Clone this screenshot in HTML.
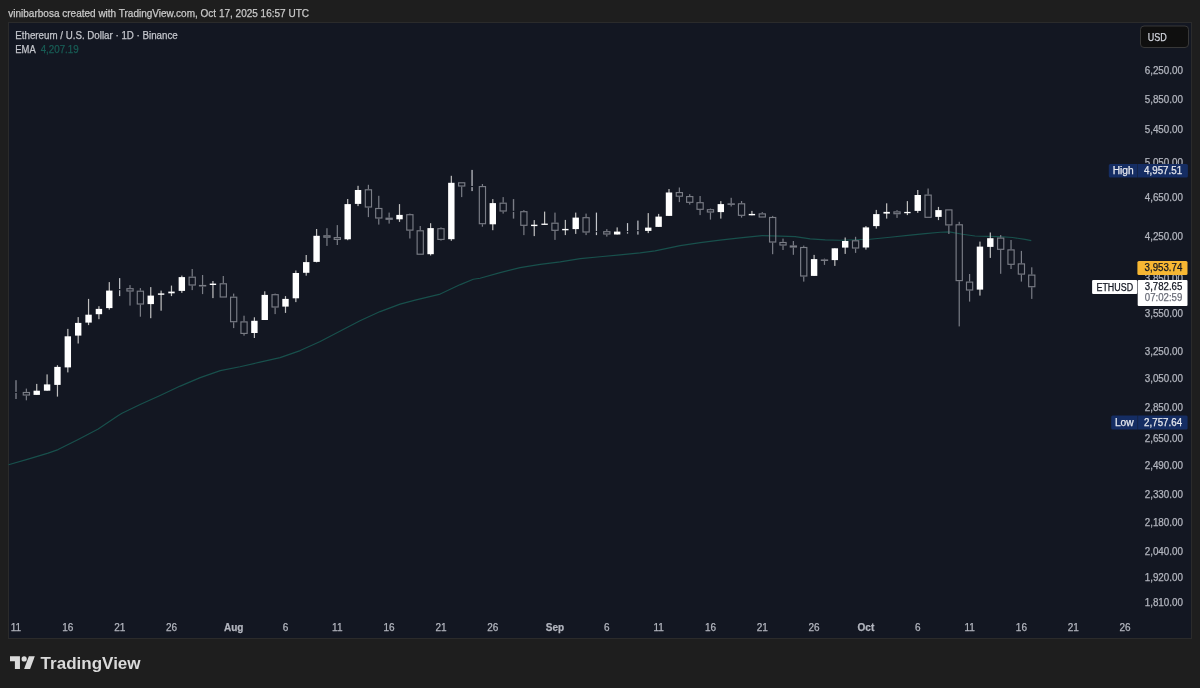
<!DOCTYPE html>
<html><head><meta charset="utf-8"><style>
html,body{margin:0;padding:0;background:#1e1e1e;width:1200px;height:688px;overflow:hidden}
svg{display:block;font-family:"Liberation Sans",sans-serif;will-change:transform}
</style></head><body>
<svg width="1200" height="688" viewBox="0 0 1200 688">
<rect x="0" y="0" width="1200" height="688" fill="#1e1e1e"/>
<text x="8.3" y="16.5" font-size="10.6" fill="#c9c9c9" textLength="300.7" lengthAdjust="spacingAndGlyphs" stroke="#c9c9c9" stroke-width="0.25">vinibarbosa created with TradingView.com, Oct 17, 2025 16:57 UTC</text>
<rect x="8.5" y="22.5" width="1183" height="616" fill="#131722" stroke="#2b2b2b" stroke-width="1"/>
<polyline points="8.5,464.8 28.1,459.1 48.1,453.1 58.1,449.6 78.2,439.6 98.2,429.1 118.3,415.5 122.0,413.2 140.1,404.6 160.1,395.6 180.2,386.1 200.2,377.6 220.3,370.6 240.0,366.8 260.0,362.1 280.1,357.6 300.2,350.6 320.2,341.6 340.3,331.1 360.0,320.8 380.1,311.6 400.1,304.1 415.1,300.1 440.2,294.1 460.3,284.6 473.3,279.2 480.0,278.3 500.1,272.6 520.1,267.6 540.2,264.4 560.2,261.9 580.3,258.6 600.0,256.8 620.1,254.9 640.1,252.9 655.1,250.9 680.2,245.6 700.3,242.6 720.0,240.1 740.1,237.9 762.1,235.6 780.2,236.1 795.2,236.6 810.2,238.9 825.3,239.9 840.0,240.3 870.1,239.3 890.1,237.3 910.2,235.1 925.2,233.6 940.3,232.3 949.3,231.9 962.5,234.3 975.0,236.0 987.5,236.4 1000.0,236.6 1012.5,237.5 1025.0,239.4 1031.3,240.6" fill="none" stroke="#18504c" stroke-width="1.15" stroke-linejoin="round"/>
<rect x="15.30" y="380.20" width="1.4" height="11.70" fill="#7a7d86"/>
<rect x="15.30" y="393.00" width="1.4" height="6.00" fill="#7a7d86"/>
<rect x="25.77" y="388.60" width="1.2" height="3.30" fill="#7a7d86"/>
<rect x="25.77" y="395.60" width="1.2" height="4.70" fill="#7a7d86"/>
<rect x="23.27" y="392.50" width="6.2" height="2.50" fill="none" stroke="#7a7d86" stroke-width="1.15"/>
<rect x="36.13" y="383.90" width="1.2" height="11.00" fill="#c0c0c0"/>
<rect x="33.53" y="390.70" width="6.4" height="4.20" fill="#ffffff"/>
<rect x="46.49" y="374.40" width="1.2" height="16.30" fill="#c0c0c0"/>
<rect x="43.89" y="384.40" width="6.4" height="6.30" fill="#ffffff"/>
<rect x="56.86" y="365.20" width="1.2" height="31.40" fill="#c0c0c0"/>
<rect x="54.26" y="366.90" width="6.4" height="18.00" fill="#ffffff"/>
<rect x="67.23" y="328.90" width="1.2" height="43.50" fill="#c0c0c0"/>
<rect x="64.62" y="336.30" width="6.4" height="31.10" fill="#ffffff"/>
<rect x="77.59" y="317.10" width="1.2" height="26.40" fill="#c0c0c0"/>
<rect x="74.99" y="322.90" width="6.4" height="12.70" fill="#ffffff"/>
<rect x="87.96" y="298.90" width="1.2" height="26.20" fill="#c0c0c0"/>
<rect x="85.36" y="314.70" width="6.4" height="7.90" fill="#ffffff"/>
<rect x="98.32" y="306.20" width="1.2" height="13.00" fill="#c0c0c0"/>
<rect x="95.72" y="308.90" width="6.4" height="5.30" fill="#ffffff"/>
<rect x="108.69" y="282.10" width="1.2" height="27.50" fill="#c0c0c0"/>
<rect x="106.08" y="290.60" width="6.4" height="17.50" fill="#ffffff"/>
<rect x="119.05" y="278.10" width="1.2" height="11.00" fill="#c4c6cc"/>
<rect x="119.05" y="290.20" width="1.2" height="5.90" fill="#c4c6cc"/>
<rect x="129.41" y="285.10" width="1.2" height="3.00" fill="#7a7d86"/>
<rect x="129.41" y="291.60" width="1.2" height="14.00" fill="#7a7d86"/>
<rect x="126.91" y="288.70" width="6.2" height="2.30" fill="none" stroke="#7a7d86" stroke-width="1.15"/>
<rect x="139.78" y="288.10" width="1.2" height="2.50" fill="#7a7d86"/>
<rect x="139.78" y="304.60" width="1.2" height="12.10" fill="#7a7d86"/>
<rect x="137.28" y="291.20" width="6.2" height="12.80" fill="none" stroke="#7a7d86" stroke-width="1.15"/>
<rect x="150.15" y="287.10" width="1.2" height="31.10" fill="#c0c0c0"/>
<rect x="147.55" y="295.60" width="6.4" height="8.50" fill="#ffffff"/>
<rect x="160.51" y="290.60" width="1.2" height="20.10" fill="#c0c0c0"/>
<rect x="157.91" y="293.40" width="6.4" height="1.40" fill="#ffffff"/>
<rect x="170.88" y="285.60" width="1.2" height="10.50" fill="#c0c0c0"/>
<rect x="168.28" y="291.60" width="6.4" height="1.70" fill="#ffffff"/>
<rect x="181.24" y="275.60" width="1.2" height="17.30" fill="#c0c0c0"/>
<rect x="178.64" y="277.10" width="6.4" height="13.80" fill="#ffffff"/>
<rect x="191.61" y="269.00" width="1.2" height="7.60" fill="#7a7d86"/>
<rect x="191.61" y="285.60" width="1.2" height="4.50" fill="#7a7d86"/>
<rect x="189.11" y="277.20" width="6.2" height="7.80" fill="none" stroke="#7a7d86" stroke-width="1.15"/>
<rect x="201.97" y="275.00" width="1.2" height="9.90" fill="#7a7d86"/>
<rect x="201.97" y="286.50" width="1.2" height="7.60" fill="#7a7d86"/>
<rect x="199.47" y="285.50" width="6.2" height="0.40" fill="none" stroke="#7a7d86" stroke-width="1.15"/>
<rect x="212.34" y="281.00" width="1.2" height="17.10" fill="#c0c0c0"/>
<rect x="209.74" y="283.60" width="6.4" height="1.40" fill="#ffffff"/>
<rect x="222.70" y="276.00" width="1.2" height="7.20" fill="#7a7d86"/>
<rect x="220.20" y="283.80" width="6.2" height="13.20" fill="none" stroke="#7a7d86" stroke-width="1.15"/>
<rect x="233.06" y="293.60" width="1.2" height="3.00" fill="#7a7d86"/>
<rect x="233.06" y="322.30" width="1.2" height="5.80" fill="#7a7d86"/>
<rect x="230.56" y="297.20" width="6.2" height="24.50" fill="none" stroke="#7a7d86" stroke-width="1.15"/>
<rect x="243.43" y="315.70" width="1.2" height="5.60" fill="#7a7d86"/>
<rect x="243.43" y="334.00" width="1.2" height="1.70" fill="#7a7d86"/>
<rect x="240.93" y="321.90" width="6.2" height="11.50" fill="none" stroke="#7a7d86" stroke-width="1.15"/>
<rect x="253.80" y="317.30" width="1.2" height="20.70" fill="#c0c0c0"/>
<rect x="251.20" y="320.80" width="6.4" height="12.20" fill="#ffffff"/>
<rect x="264.16" y="291.30" width="1.2" height="28.70" fill="#c0c0c0"/>
<rect x="261.56" y="294.90" width="6.4" height="25.10" fill="#ffffff"/>
<rect x="274.52" y="293.60" width="1.2" height="0.50" fill="#7a7d86"/>
<rect x="274.52" y="307.60" width="1.2" height="6.50" fill="#7a7d86"/>
<rect x="272.02" y="294.70" width="6.2" height="12.30" fill="none" stroke="#7a7d86" stroke-width="1.15"/>
<rect x="284.89" y="296.10" width="1.2" height="16.80" fill="#c0c0c0"/>
<rect x="282.29" y="298.90" width="6.4" height="7.70" fill="#ffffff"/>
<rect x="295.25" y="270.50" width="1.2" height="31.60" fill="#c0c0c0"/>
<rect x="292.66" y="273.00" width="6.4" height="25.30" fill="#ffffff"/>
<rect x="305.62" y="255.00" width="1.2" height="20.70" fill="#c0c0c0"/>
<rect x="303.02" y="262.10" width="6.4" height="10.70" fill="#ffffff"/>
<rect x="315.98" y="229.00" width="1.2" height="33.40" fill="#c0c0c0"/>
<rect x="313.38" y="235.80" width="6.4" height="26.10" fill="#ffffff"/>
<rect x="326.35" y="228.20" width="1.2" height="7.00" fill="#7a7d86"/>
<rect x="326.35" y="237.80" width="1.2" height="8.10" fill="#7a7d86"/>
<rect x="323.85" y="235.80" width="6.2" height="1.40" fill="none" stroke="#7a7d86" stroke-width="1.15"/>
<rect x="336.71" y="225.10" width="1.2" height="11.90" fill="#7a7d86"/>
<rect x="336.71" y="240.00" width="1.2" height="5.00" fill="#7a7d86"/>
<rect x="334.21" y="237.60" width="6.2" height="1.80" fill="none" stroke="#7a7d86" stroke-width="1.15"/>
<rect x="347.08" y="199.00" width="1.2" height="41.20" fill="#c0c0c0"/>
<rect x="344.48" y="204.10" width="6.4" height="35.20" fill="#ffffff"/>
<rect x="357.44" y="185.80" width="1.2" height="20.30" fill="#c0c0c0"/>
<rect x="354.85" y="190.00" width="6.4" height="13.90" fill="#ffffff"/>
<rect x="367.81" y="184.80" width="1.2" height="4.40" fill="#7a7d86"/>
<rect x="367.81" y="207.60" width="1.2" height="9.50" fill="#7a7d86"/>
<rect x="365.31" y="189.80" width="6.2" height="17.20" fill="none" stroke="#7a7d86" stroke-width="1.15"/>
<rect x="378.18" y="195.80" width="1.2" height="12.10" fill="#7a7d86"/>
<rect x="378.18" y="218.60" width="1.2" height="6.00" fill="#7a7d86"/>
<rect x="375.68" y="208.50" width="6.2" height="9.50" fill="none" stroke="#7a7d86" stroke-width="1.15"/>
<rect x="388.54" y="212.60" width="1.2" height="5.00" fill="#7a7d86"/>
<rect x="388.54" y="219.90" width="1.2" height="3.70" fill="#7a7d86"/>
<rect x="386.04" y="218.20" width="6.2" height="1.10" fill="none" stroke="#7a7d86" stroke-width="1.15"/>
<rect x="398.90" y="204.10" width="1.2" height="17.80" fill="#c0c0c0"/>
<rect x="396.31" y="214.90" width="6.4" height="4.40" fill="#ffffff"/>
<rect x="409.27" y="213.60" width="1.2" height="0.50" fill="#7a7d86"/>
<rect x="409.27" y="230.70" width="1.2" height="7.80" fill="#7a7d86"/>
<rect x="406.77" y="214.70" width="6.2" height="15.40" fill="none" stroke="#7a7d86" stroke-width="1.15"/>
<rect x="419.63" y="226.00" width="1.2" height="4.20" fill="#7a7d86"/>
<rect x="417.13" y="230.80" width="6.2" height="23.40" fill="none" stroke="#7a7d86" stroke-width="1.15"/>
<rect x="430.00" y="223.20" width="1.2" height="32.30" fill="#c0c0c0"/>
<rect x="427.40" y="228.10" width="6.4" height="26.10" fill="#ffffff"/>
<rect x="440.37" y="227.40" width="1.2" height="0.70" fill="#7a7d86"/>
<rect x="440.37" y="240.00" width="1.2" height="0.60" fill="#7a7d86"/>
<rect x="437.87" y="228.70" width="6.2" height="10.70" fill="none" stroke="#7a7d86" stroke-width="1.15"/>
<rect x="450.73" y="175.80" width="1.2" height="65.00" fill="#c0c0c0"/>
<rect x="448.13" y="182.80" width="6.4" height="56.40" fill="#ffffff"/>
<rect x="461.09" y="186.60" width="1.2" height="10.50" fill="#7a7d86"/>
<rect x="458.59" y="182.80" width="6.2" height="3.20" fill="none" stroke="#7a7d86" stroke-width="1.15"/>
<rect x="471.46" y="169.90" width="1.2" height="16.10" fill="#c4c6cc"/>
<rect x="471.46" y="187.10" width="1.2" height="4.00" fill="#c4c6cc"/>
<rect x="481.82" y="184.00" width="1.2" height="2.00" fill="#7a7d86"/>
<rect x="481.82" y="224.30" width="1.2" height="2.40" fill="#7a7d86"/>
<rect x="479.32" y="186.60" width="6.2" height="37.10" fill="none" stroke="#7a7d86" stroke-width="1.15"/>
<rect x="492.19" y="199.10" width="1.2" height="31.10" fill="#c0c0c0"/>
<rect x="489.59" y="203.10" width="6.4" height="21.20" fill="#ffffff"/>
<rect x="502.56" y="197.10" width="1.2" height="5.50" fill="#7a7d86"/>
<rect x="502.56" y="211.60" width="1.2" height="2.00" fill="#7a7d86"/>
<rect x="500.06" y="203.20" width="6.2" height="7.80" fill="none" stroke="#7a7d86" stroke-width="1.15"/>
<rect x="512.82" y="199.10" width="1.4" height="11.70" fill="#7a7d86"/>
<rect x="512.82" y="211.90" width="1.4" height="6.70" fill="#7a7d86"/>
<rect x="523.28" y="210.10" width="1.2" height="1.00" fill="#7a7d86"/>
<rect x="523.28" y="225.90" width="1.2" height="9.20" fill="#7a7d86"/>
<rect x="520.78" y="211.70" width="6.2" height="13.60" fill="none" stroke="#7a7d86" stroke-width="1.15"/>
<rect x="533.65" y="220.10" width="1.2" height="16.00" fill="#c0c0c0"/>
<rect x="531.05" y="224.70" width="6.4" height="1.40" fill="#ffffff"/>
<rect x="544.01" y="211.60" width="1.2" height="13.00" fill="#c0c0c0"/>
<rect x="541.41" y="223.60" width="6.4" height="1.30" fill="#ffffff"/>
<rect x="554.38" y="212.60" width="1.2" height="10.00" fill="#7a7d86"/>
<rect x="554.38" y="230.90" width="1.2" height="9.00" fill="#7a7d86"/>
<rect x="551.88" y="223.20" width="6.2" height="7.10" fill="none" stroke="#7a7d86" stroke-width="1.15"/>
<rect x="564.75" y="219.90" width="1.2" height="15.20" fill="#c0c0c0"/>
<rect x="562.14" y="228.90" width="6.4" height="1.40" fill="#ffffff"/>
<rect x="575.11" y="212.60" width="1.2" height="21.30" fill="#c0c0c0"/>
<rect x="572.51" y="217.60" width="6.4" height="11.50" fill="#ffffff"/>
<rect x="585.48" y="213.60" width="1.2" height="3.50" fill="#7a7d86"/>
<rect x="585.48" y="232.60" width="1.2" height="2.50" fill="#7a7d86"/>
<rect x="582.98" y="217.70" width="6.2" height="14.30" fill="none" stroke="#7a7d86" stroke-width="1.15"/>
<rect x="595.84" y="212.60" width="1.2" height="18.50" fill="#c4c6cc"/>
<rect x="595.84" y="232.20" width="1.2" height="2.90" fill="#c4c6cc"/>
<rect x="606.21" y="229.10" width="1.2" height="2.00" fill="#7a7d86"/>
<rect x="606.21" y="234.60" width="1.2" height="2.00" fill="#7a7d86"/>
<rect x="603.71" y="231.70" width="6.2" height="2.30" fill="none" stroke="#7a7d86" stroke-width="1.15"/>
<rect x="616.57" y="227.40" width="1.2" height="7.10" fill="#c0c0c0"/>
<rect x="613.97" y="231.60" width="6.4" height="2.90" fill="#ffffff"/>
<rect x="626.93" y="223.10" width="1.2" height="8.00" fill="#c4c6cc"/>
<rect x="626.93" y="232.20" width="1.2" height="1.40" fill="#c4c6cc"/>
<rect x="637.30" y="220.60" width="1.2" height="9.50" fill="#c4c6cc"/>
<rect x="637.30" y="231.20" width="1.2" height="3.40" fill="#c4c6cc"/>
<rect x="647.66" y="213.10" width="1.2" height="20.00" fill="#c0c0c0"/>
<rect x="645.06" y="227.60" width="6.4" height="3.30" fill="#ffffff"/>
<rect x="658.03" y="213.90" width="1.2" height="13.00" fill="#c0c0c0"/>
<rect x="655.43" y="216.60" width="6.4" height="10.30" fill="#ffffff"/>
<rect x="668.39" y="189.00" width="1.2" height="26.90" fill="#c0c0c0"/>
<rect x="665.79" y="192.50" width="6.4" height="23.40" fill="#ffffff"/>
<rect x="678.76" y="187.50" width="1.2" height="4.50" fill="#7a7d86"/>
<rect x="678.76" y="196.80" width="1.2" height="5.30" fill="#7a7d86"/>
<rect x="676.26" y="192.60" width="6.2" height="3.60" fill="none" stroke="#7a7d86" stroke-width="1.15"/>
<rect x="689.12" y="194.20" width="1.2" height="1.80" fill="#7a7d86"/>
<rect x="689.12" y="202.90" width="1.2" height="1.70" fill="#7a7d86"/>
<rect x="686.62" y="196.60" width="6.2" height="5.70" fill="none" stroke="#7a7d86" stroke-width="1.15"/>
<rect x="699.49" y="196.00" width="1.2" height="6.10" fill="#7a7d86"/>
<rect x="699.49" y="209.90" width="1.2" height="5.20" fill="#7a7d86"/>
<rect x="696.99" y="202.70" width="6.2" height="6.60" fill="none" stroke="#7a7d86" stroke-width="1.15"/>
<rect x="709.86" y="208.60" width="1.2" height="0.50" fill="#7a7d86"/>
<rect x="709.86" y="212.60" width="1.2" height="7.00" fill="#7a7d86"/>
<rect x="707.36" y="209.70" width="6.2" height="2.30" fill="none" stroke="#7a7d86" stroke-width="1.15"/>
<rect x="720.22" y="201.10" width="1.2" height="17.50" fill="#c0c0c0"/>
<rect x="717.62" y="204.10" width="6.4" height="8.00" fill="#ffffff"/>
<rect x="730.59" y="197.80" width="1.2" height="5.50" fill="#7a7d86"/>
<rect x="730.59" y="204.90" width="1.2" height="1.60" fill="#7a7d86"/>
<rect x="728.09" y="203.90" width="6.2" height="0.40" fill="none" stroke="#7a7d86" stroke-width="1.15"/>
<rect x="740.95" y="201.00" width="1.2" height="2.20" fill="#7a7d86"/>
<rect x="740.95" y="215.90" width="1.2" height="1.70" fill="#7a7d86"/>
<rect x="738.45" y="203.80" width="6.2" height="11.50" fill="none" stroke="#7a7d86" stroke-width="1.15"/>
<rect x="751.31" y="210.90" width="1.2" height="4.40" fill="#c0c0c0"/>
<rect x="748.71" y="213.90" width="6.4" height="1.40" fill="#ffffff"/>
<rect x="761.68" y="212.10" width="1.2" height="1.20" fill="#7a7d86"/>
<rect x="759.18" y="213.90" width="6.2" height="3.10" fill="none" stroke="#7a7d86" stroke-width="1.15"/>
<rect x="772.04" y="215.90" width="1.2" height="1.00" fill="#7a7d86"/>
<rect x="772.04" y="242.60" width="1.2" height="11.60" fill="#7a7d86"/>
<rect x="769.54" y="217.50" width="6.2" height="24.50" fill="none" stroke="#7a7d86" stroke-width="1.15"/>
<rect x="782.41" y="238.60" width="1.2" height="3.30" fill="#7a7d86"/>
<rect x="782.41" y="245.60" width="1.2" height="4.40" fill="#7a7d86"/>
<rect x="779.91" y="242.50" width="6.2" height="2.50" fill="none" stroke="#7a7d86" stroke-width="1.15"/>
<rect x="792.77" y="241.00" width="1.2" height="4.40" fill="#7a7d86"/>
<rect x="792.77" y="247.60" width="1.2" height="7.20" fill="#7a7d86"/>
<rect x="790.27" y="246.00" width="6.2" height="1.00" fill="none" stroke="#7a7d86" stroke-width="1.15"/>
<rect x="803.14" y="245.60" width="1.2" height="1.30" fill="#7a7d86"/>
<rect x="803.14" y="276.60" width="1.2" height="5.00" fill="#7a7d86"/>
<rect x="800.64" y="247.50" width="6.2" height="28.50" fill="none" stroke="#7a7d86" stroke-width="1.15"/>
<rect x="813.50" y="254.90" width="1.2" height="21.00" fill="#c0c0c0"/>
<rect x="810.90" y="259.10" width="6.4" height="16.80" fill="#ffffff"/>
<rect x="823.87" y="258.60" width="1.2" height="0.80" fill="#7a7d86"/>
<rect x="823.87" y="261.00" width="1.2" height="3.90" fill="#7a7d86"/>
<rect x="821.37" y="260.00" width="6.2" height="0.40" fill="none" stroke="#7a7d86" stroke-width="1.15"/>
<rect x="834.24" y="248.30" width="1.2" height="17.60" fill="#c0c0c0"/>
<rect x="831.63" y="248.30" width="6.4" height="11.80" fill="#ffffff"/>
<rect x="844.60" y="237.50" width="1.2" height="16.40" fill="#c0c0c0"/>
<rect x="842.00" y="241.00" width="6.4" height="6.60" fill="#ffffff"/>
<rect x="854.97" y="236.80" width="1.2" height="3.40" fill="#7a7d86"/>
<rect x="854.97" y="248.60" width="1.2" height="4.30" fill="#7a7d86"/>
<rect x="852.47" y="240.80" width="6.2" height="7.20" fill="none" stroke="#7a7d86" stroke-width="1.15"/>
<rect x="865.33" y="226.10" width="1.2" height="23.50" fill="#c0c0c0"/>
<rect x="862.73" y="227.40" width="6.4" height="20.10" fill="#ffffff"/>
<rect x="875.70" y="209.90" width="1.2" height="18.70" fill="#c0c0c0"/>
<rect x="873.10" y="214.10" width="6.4" height="12.00" fill="#ffffff"/>
<rect x="886.06" y="203.30" width="1.2" height="15.30" fill="#c0c0c0"/>
<rect x="883.46" y="211.90" width="6.4" height="1.70" fill="#ffffff"/>
<rect x="896.42" y="210.10" width="1.2" height="1.20" fill="#7a7d86"/>
<rect x="896.42" y="214.30" width="1.2" height="3.60" fill="#7a7d86"/>
<rect x="893.92" y="211.90" width="6.2" height="1.80" fill="none" stroke="#7a7d86" stroke-width="1.15"/>
<rect x="906.79" y="201.10" width="1.2" height="14.00" fill="#c0c0c0"/>
<rect x="904.19" y="211.90" width="6.4" height="1.30" fill="#ffffff"/>
<rect x="917.15" y="190.00" width="1.2" height="22.90" fill="#c0c0c0"/>
<rect x="914.55" y="195.00" width="6.4" height="15.90" fill="#ffffff"/>
<rect x="927.52" y="188.50" width="1.2" height="6.00" fill="#7a7d86"/>
<rect x="925.02" y="195.10" width="6.2" height="22.20" fill="none" stroke="#7a7d86" stroke-width="1.15"/>
<rect x="937.88" y="206.90" width="1.2" height="13.20" fill="#c0c0c0"/>
<rect x="935.28" y="210.10" width="6.4" height="6.80" fill="#ffffff"/>
<rect x="948.25" y="225.50" width="1.2" height="8.50" fill="#7a7d86"/>
<rect x="945.75" y="209.90" width="6.2" height="15.00" fill="none" stroke="#7a7d86" stroke-width="1.15"/>
<rect x="958.62" y="221.80" width="1.2" height="2.40" fill="#7a7d86"/>
<rect x="958.62" y="281.20" width="1.2" height="45.20" fill="#7a7d86"/>
<rect x="956.12" y="224.80" width="6.2" height="55.80" fill="none" stroke="#7a7d86" stroke-width="1.15"/>
<rect x="968.98" y="274.00" width="1.2" height="7.50" fill="#7a7d86"/>
<rect x="968.98" y="290.60" width="1.2" height="11.00" fill="#7a7d86"/>
<rect x="966.48" y="282.10" width="6.2" height="7.90" fill="none" stroke="#7a7d86" stroke-width="1.15"/>
<rect x="979.35" y="241.60" width="1.2" height="54.00" fill="#c0c0c0"/>
<rect x="976.75" y="246.60" width="6.4" height="43.00" fill="#ffffff"/>
<rect x="989.71" y="232.50" width="1.2" height="25.40" fill="#c0c0c0"/>
<rect x="987.11" y="238.20" width="6.4" height="8.70" fill="#ffffff"/>
<rect x="1000.08" y="235.00" width="1.2" height="2.50" fill="#7a7d86"/>
<rect x="1000.08" y="249.90" width="1.2" height="23.90" fill="#7a7d86"/>
<rect x="997.58" y="238.10" width="6.2" height="11.20" fill="none" stroke="#7a7d86" stroke-width="1.15"/>
<rect x="1010.44" y="240.00" width="1.2" height="9.30" fill="#7a7d86"/>
<rect x="1010.44" y="264.90" width="1.2" height="4.10" fill="#7a7d86"/>
<rect x="1007.94" y="249.90" width="6.2" height="14.40" fill="none" stroke="#7a7d86" stroke-width="1.15"/>
<rect x="1020.80" y="250.90" width="1.2" height="12.40" fill="#7a7d86"/>
<rect x="1020.80" y="274.70" width="1.2" height="6.90" fill="#7a7d86"/>
<rect x="1018.30" y="263.90" width="6.2" height="10.20" fill="none" stroke="#7a7d86" stroke-width="1.15"/>
<rect x="1031.17" y="267.30" width="1.2" height="7.20" fill="#7a7d86"/>
<rect x="1031.17" y="287.30" width="1.2" height="11.60" fill="#7a7d86"/>
<rect x="1028.67" y="275.10" width="6.2" height="11.60" fill="none" stroke="#7a7d86" stroke-width="1.15"/>
<g font-size="10" fill="#b2b5be" stroke="#b2b5be" stroke-width="0.25">
<text x="1183" y="74.1" text-anchor="end" textLength="38.3" lengthAdjust="spacingAndGlyphs">6,250.00</text>
<text x="1183" y="102.5" text-anchor="end" textLength="38.3" lengthAdjust="spacingAndGlyphs">5,850.00</text>
<text x="1183" y="132.9" text-anchor="end" textLength="38.3" lengthAdjust="spacingAndGlyphs">5,450.00</text>
<text x="1183" y="165.6" text-anchor="end" textLength="38.3" lengthAdjust="spacingAndGlyphs">5,050.00</text>
<text x="1183" y="201.0" text-anchor="end" textLength="38.3" lengthAdjust="spacingAndGlyphs">4,650.00</text>
<text x="1183" y="239.6" text-anchor="end" textLength="38.3" lengthAdjust="spacingAndGlyphs">4,250.00</text>
<text x="1183" y="282.1" text-anchor="end" textLength="38.3" lengthAdjust="spacingAndGlyphs">3,850.00</text>
<text x="1183" y="316.9" text-anchor="end" textLength="38.3" lengthAdjust="spacingAndGlyphs">3,550.00</text>
<text x="1183" y="354.8" text-anchor="end" textLength="38.3" lengthAdjust="spacingAndGlyphs">3,250.00</text>
<text x="1183" y="382.0" text-anchor="end" textLength="38.3" lengthAdjust="spacingAndGlyphs">3,050.00</text>
<text x="1183" y="411.1" text-anchor="end" textLength="38.3" lengthAdjust="spacingAndGlyphs">2,850.00</text>
<text x="1183" y="442.4" text-anchor="end" textLength="38.3" lengthAdjust="spacingAndGlyphs">2,650.00</text>
<text x="1183" y="469.1" text-anchor="end" textLength="38.3" lengthAdjust="spacingAndGlyphs">2,490.00</text>
<text x="1183" y="497.6" text-anchor="end" textLength="38.3" lengthAdjust="spacingAndGlyphs">2,330.00</text>
<text x="1183" y="526.2" text-anchor="end" textLength="38.3" lengthAdjust="spacingAndGlyphs">2,180.00</text>
<text x="1183" y="554.6" text-anchor="end" textLength="38.3" lengthAdjust="spacingAndGlyphs">2,040.00</text>
<text x="1183" y="580.7" text-anchor="end" textLength="38.3" lengthAdjust="spacingAndGlyphs">1,920.00</text>
<text x="1183" y="606.0" text-anchor="end" textLength="38.3" lengthAdjust="spacingAndGlyphs">1,810.00</text>
</g>
<g font-size="10" fill="#b2b5be" stroke="#b2b5be" stroke-width="0.25">
<text x="16.0" y="630.6" text-anchor="middle">11</text>
<text x="67.8" y="630.6" text-anchor="middle">16</text>
<text x="119.7" y="630.6" text-anchor="middle">21</text>
<text x="171.5" y="630.6" text-anchor="middle">26</text>
<text x="233.7" y="630.6" text-anchor="middle" font-weight="bold">Aug</text>
<text x="285.5" y="630.6" text-anchor="middle">6</text>
<text x="337.3" y="630.6" text-anchor="middle">11</text>
<text x="389.1" y="630.6" text-anchor="middle">16</text>
<text x="441.0" y="630.6" text-anchor="middle">21</text>
<text x="492.8" y="630.6" text-anchor="middle">26</text>
<text x="555.0" y="630.6" text-anchor="middle" font-weight="bold">Sep</text>
<text x="606.8" y="630.6" text-anchor="middle">6</text>
<text x="658.6" y="630.6" text-anchor="middle">11</text>
<text x="710.5" y="630.6" text-anchor="middle">16</text>
<text x="762.3" y="630.6" text-anchor="middle">21</text>
<text x="814.1" y="630.6" text-anchor="middle">26</text>
<text x="865.9" y="630.6" text-anchor="middle" font-weight="bold">Oct</text>
<text x="917.8" y="630.6" text-anchor="middle">6</text>
<text x="969.6" y="630.6" text-anchor="middle">11</text>
<text x="1021.4" y="630.6" text-anchor="middle">16</text>
<text x="1073.2" y="630.6" text-anchor="middle">21</text>
<text x="1125.1" y="630.6" text-anchor="middle">26</text>
</g>
<text x="15.3" y="38.9" font-size="10" fill="#c3c5cb" textLength="162.4" lengthAdjust="spacingAndGlyphs" stroke="#c3c5cb" stroke-width="0.25">Ethereum / U.S. Dollar · 1D · Binance</text>
<text x="15.3" y="53" font-size="10" fill="#c3c5cb" textLength="20.4" lengthAdjust="spacingAndGlyphs" stroke="#c3c5cb" stroke-width="0.25">EMA</text>
<text x="40.7" y="53" font-size="10" fill="#185c55" textLength="38" lengthAdjust="spacingAndGlyphs" stroke="#185c55" stroke-width="0.25">4,207.19</text>
<!-- USD button -->
<rect x="1140.5" y="26" width="48" height="21.5" rx="3.5" fill="#0f0f0f" stroke="#383838" stroke-width="1"/>
<text x="1147.7" y="41" font-size="10.5" fill="#d1d4dc" textLength="19" lengthAdjust="spacingAndGlyphs" stroke="#d1d4dc" stroke-width="0.25">USD</text>
<!-- High label -->
<rect x="1108.8" y="164.0" width="79.1" height="13.6" rx="1.5" fill="#152d63"/>
<rect x="1137" y="164.0" width="0.8" height="13.6" fill="#131722" opacity="0.5"/>
<text x="1112.7" y="174.3" font-size="10" fill="#e6e8ee" textLength="21" lengthAdjust="spacingAndGlyphs" stroke="#e6e8ee" stroke-width="0.25">High</text>
<text x="1182.1" y="174.3" font-size="10" fill="#e6e8ee" text-anchor="end" textLength="38" lengthAdjust="spacingAndGlyphs" stroke="#e6e8ee" stroke-width="0.25">4,957.51</text>
<!-- Low label -->
<rect x="1111.2" y="415.6" width="76.4" height="13.9" rx="1.5" fill="#152d63"/>
<rect x="1137.3" y="415.6" width="0.8" height="13.9" fill="#131722" opacity="0.5"/>
<text x="1114.9" y="426" font-size="10" fill="#e6e8ee" textLength="18.8" lengthAdjust="spacingAndGlyphs" stroke="#e6e8ee" stroke-width="0.25">Low</text>
<text x="1182.1" y="426" font-size="10" fill="#e6e8ee" text-anchor="end" textLength="38" lengthAdjust="spacingAndGlyphs" stroke="#e6e8ee" stroke-width="0.25">2,757.64</text>
<!-- orange -->
<rect x="1137.4" y="261" width="50.1" height="14" rx="1.5" fill="#f7b733"/>
<text x="1182.3" y="270.8" font-size="10" fill="#131722" text-anchor="end" textLength="37.7" lengthAdjust="spacingAndGlyphs" stroke="#131722" stroke-width="0.25">3,953.74</text>
<!-- ETHUSD -->
<rect x="1092.1" y="280" width="45.1" height="14" rx="1" fill="#ffffff"/>
<text x="1096.5" y="290.6" font-size="10" fill="#131722" textLength="36.6" lengthAdjust="spacingAndGlyphs" stroke="#131722" stroke-width="0.25">ETHUSD</text>
<rect x="1137.7" y="280" width="49.8" height="25.9" rx="1" fill="#ffffff"/>
<text x="1182.3" y="289.9" font-size="10" fill="#131722" text-anchor="end" textLength="37.5" lengthAdjust="spacingAndGlyphs" stroke="#131722" stroke-width="0.25">3,782.65</text>
<text x="1182.3" y="300.9" font-size="10" fill="#6a6d78" text-anchor="end" textLength="37.5" lengthAdjust="spacingAndGlyphs" stroke="#6a6d78" stroke-width="0.25">07:02:59</text>
<!-- logo -->
<g fill="#dadada">
<path d="M10,656.2 H19.95 V669 H14.9 V661.3 H10 Z"/>
<circle cx="24.14" cy="658.9" r="2.6"/>
<path d="M28.85,656.2 H34.8 L30.1,669 H24.1 Z"/>
<text x="40.6" y="668.75" font-size="16.8" font-weight="bold" textLength="100" lengthAdjust="spacingAndGlyphs">TradingView</text>
</g>
</svg>
</body></html>
